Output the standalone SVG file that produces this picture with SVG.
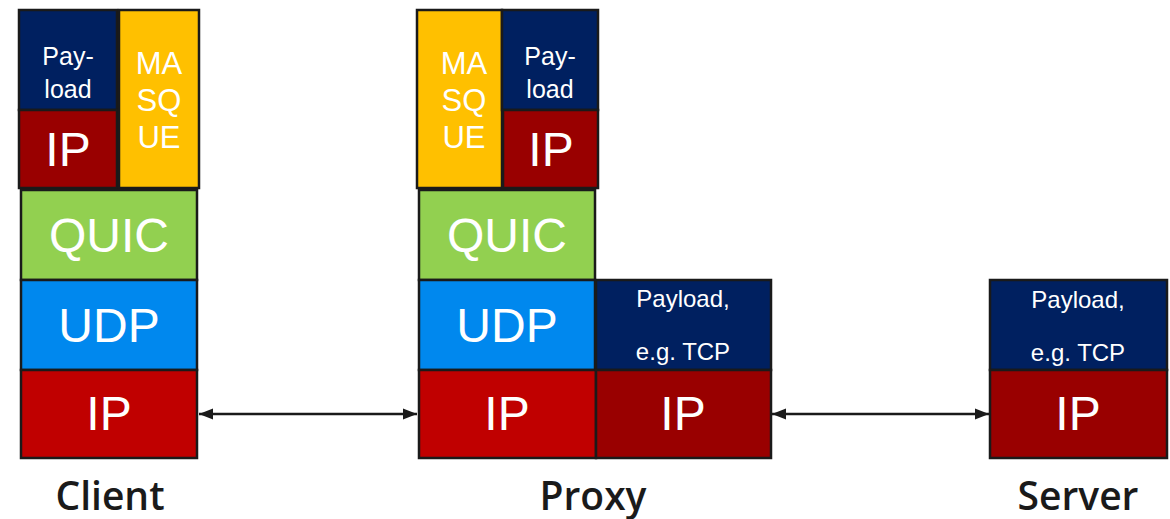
<svg xmlns="http://www.w3.org/2000/svg" width="1170" height="519" viewBox="0 0 1170 519">
<defs>
<marker id="ah" viewBox="0 0 10 10" refX="10" refY="5" markerWidth="14" markerHeight="14" markerUnits="userSpaceOnUse" orient="auto-start-reverse"><path d="M0,1 L10,5 L0,9 z" fill="#1a1a1a"/></marker>
</defs>
<style>
rect{stroke:#1a1a1a;stroke-width:2.5}
.t{font-family:"Liberation Sans",Arial,sans-serif;fill:#fff;text-anchor:middle}
.s{font-size:25px}
.m{font-size:31px}
.b{font-size:48px}
.p{font-size:24px}
.l{font-family:"Open Sans","Noto Sans",sans-serif;font-size:39px;font-weight:600;fill:#1a1a1a;text-anchor:middle}
.navy{fill:#002060}.dred{fill:#990000}.yel{fill:#FFC000}.grn{fill:#92D050}.blu{fill:#0088EE}.red{fill:#C00000}
</style>
<g id="client">
<rect class="navy" x="19" y="10" width="98" height="100"/>
<text class="t s" x="68" y="65">Pay-</text><text class="t s" x="68" y="98">load</text>
<rect class="dred" x="19" y="110" width="98" height="78"/>
<text class="t b" x="68" y="166">IP</text>
<rect class="yel" x="119" y="10" width="80" height="178"/>
<text class="t m" x="159" y="74">MA</text><text class="t m" x="159" y="111">SQ</text><text class="t m" x="159" y="148">UE</text>
<rect class="grn" x="21" y="190" width="176" height="90"/>
<text class="t b" x="109" y="252">QUIC</text>
<rect class="blu" x="21" y="280" width="176" height="90"/>
<text class="t b" x="109" y="342">UDP</text>
<rect class="red" x="21" y="370" width="176" height="88"/>
<text class="t b" x="109" y="430">IP</text>
<text class="l" x="110" y="510">Client</text>
</g>
<g id="proxy">
<rect class="yel" x="417" y="10" width="85" height="178"/>
<text class="t m" x="464" y="74">MA</text><text class="t m" x="464" y="111">SQ</text><text class="t m" x="464" y="148">UE</text>
<rect class="navy" x="502" y="10" width="96" height="100"/>
<text class="t s" x="550" y="65">Pay-</text><text class="t s" x="550" y="98">load</text>
<rect class="dred" x="503" y="110" width="95" height="78"/>
<text class="t b" x="551" y="166">IP</text>
<rect class="grn" x="419" y="190" width="176" height="90"/>
<text class="t b" x="507" y="252">QUIC</text>
<rect class="blu" x="419" y="280" width="176" height="90"/>
<text class="t b" x="507" y="342">UDP</text>
<rect class="red" x="419" y="370" width="177" height="88"/>
<text class="t b" x="507" y="430">IP</text>
<rect class="navy" x="596" y="280" width="175" height="90"/>
<text class="t p" x="683" y="307">Payload,</text><text class="t p" x="683" y="360">e.g. TCP</text>
<rect class="dred" x="596" y="370" width="175" height="88"/>
<text class="t b" x="683" y="430">IP</text>
<text class="l" x="593" y="510">Proxy</text>
</g>
<g id="server">
<rect class="navy" x="990" y="280" width="177" height="90"/>
<text class="t p" x="1078" y="308">Payload,</text><text class="t p" x="1078" y="361">e.g. TCP</text>
<rect class="dred" x="990" y="370" width="177" height="88"/>
<text class="t b" x="1078" y="430">IP</text>
<text class="l" x="1078" y="510">Server</text>
</g>
<g id="connectors" stroke="#1a1a1a" stroke-width="2.5" fill="none">
<line x1="199" y1="414" x2="417" y2="414" marker-start="url(#ah)" marker-end="url(#ah)"/>
<line x1="772" y1="414" x2="989" y2="414" marker-start="url(#ah)" marker-end="url(#ah)"/>
</g>
</svg>
